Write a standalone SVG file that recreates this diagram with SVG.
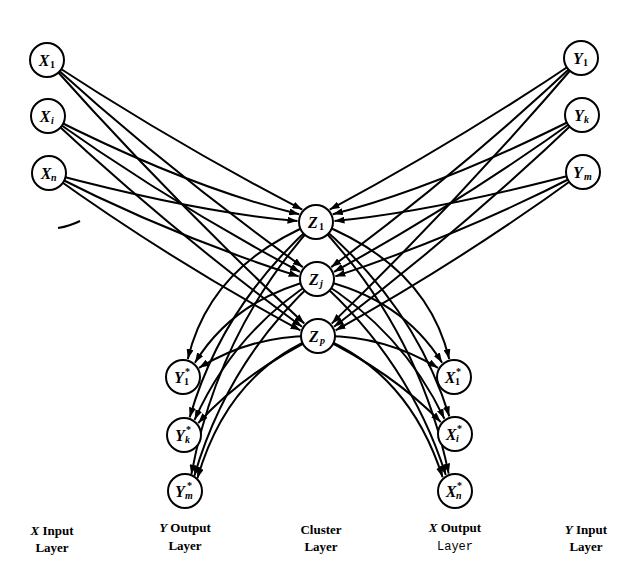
<svg xmlns="http://www.w3.org/2000/svg" width="625" height="567" viewBox="0 0 625 567">
<style>
.node circle{fill:#fff;stroke:#000;stroke-width:2}
.m{font-family:"Liberation Serif",serif;font-style:italic;font-weight:bold;font-size:16px;text-anchor:middle}
.s{font-family:"Liberation Serif",serif;font-style:italic;font-weight:bold;font-size:10px}
.u{font-style:normal}
.edge{fill:none;stroke:#000;stroke-width:2;marker-end:url(#ah)}
.lab{font-family:"Liberation Serif",serif;font-weight:bold;font-size:13px;text-anchor:middle}
.mono{font-family:"Liberation Mono",monospace;font-weight:normal;font-size:12px;text-anchor:middle}
</style>
<defs>
<marker id="ah" viewBox="0 0 10 7" refX="10" refY="3.5" markerWidth="10" markerHeight="7" markerUnits="userSpaceOnUse" orient="auto"><path d="M0,0 L10,3.5 L0,7 z" fill="#000"/></marker>
</defs>
<rect width="625" height="567" fill="#fff"/>
<g id="connectors">
<path class="edge" d="M47,60 Q172,142 302.3,209.6"/>
<path class="edge" d="M48,116 Q190,188 299.2,214.2"/>
<path class="edge" d="M49,173 Q200,213 297.5,221"/>
<path class="edge" d="M47,60 Q169,171 302.8,267.1"/>
<path class="edge" d="M48,116 Q169,202 300,271.8"/>
<path class="edge" d="M49,173 Q170,235 298.7,276.4"/>
<path class="edge" d="M47,60 Q170,198 304.3,323.6"/>
<path class="edge" d="M48,116 Q169,229 302,326.8"/>
<path class="edge" d="M49,173 Q170,260 300.4,330.3"/>
<path class="edge" d="M581,58 Q458,141 329.7,209.6"/>
<path class="edge" d="M582,115 Q440,187 332.8,214.2"/>
<path class="edge" d="M583,172 Q432,212 334.5,221"/>
<path class="edge" d="M581,58 Q462,170 331.2,267.1"/>
<path class="edge" d="M582,115 Q463,201 334,271.8"/>
<path class="edge" d="M583,172 Q463,234 335.3,276.4"/>
<path class="edge" d="M581,58 Q462,197 331.7,323.6"/>
<path class="edge" d="M582,115 Q464,228 334,326.8"/>
<path class="edge" d="M583,172 Q464,259 335.6,330.3"/>
<path class="edge" d="M316,222 Q210,265 187.8,359.1"/>
<path class="edge" d="M316,222 Q222,305 189.7,417.4"/>
<path class="edge" d="M316,222 Q218,330 191.3,474.6"/>
<path class="edge" d="M317,279 Q235,298 194.9,362.8"/>
<path class="edge" d="M317,279 Q235,330 194.6,419.8"/>
<path class="edge" d="M317,279 Q228,360 194.3,476"/>
<path class="edge" d="M318,336 Q255,334 199,367.8"/>
<path class="edge" d="M318,336 Q245,372 198.2,423.1"/>
<path class="edge" d="M318,336 Q228,372 197.4,478.3"/>
<path class="edge" d="M316,222 Q427,265 449.2,359.1"/>
<path class="edge" d="M316,222 Q415,305 449.3,416.4"/>
<path class="edge" d="M316,222 Q419,330 448.7,473.6"/>
<path class="edge" d="M317,279 Q402,298 442.1,362.8"/>
<path class="edge" d="M317,279 Q402,330 444.4,418.8"/>
<path class="edge" d="M317,279 Q409,360 445.8,475"/>
<path class="edge" d="M318,336 Q382,334 438,367.8"/>
<path class="edge" d="M318,336 Q392,372 440.8,422.1"/>
<path class="edge" d="M318,336 Q409,372 442.6,477.3"/>
</g>
<path d="M58,228 Q70,226 80,221" fill="none" stroke="#000" stroke-width="2"/>
<g id="X1" class="node"><circle cx="47" cy="60" r="17"/><text class="m" x="44" y="66">X</text><text class="s u" x="50" y="68">1</text></g>
<g id="Xi" class="node"><circle cx="48" cy="116" r="17"/><text class="m" x="45" y="122">X</text><text class="s" x="51" y="124">i</text></g>
<g id="Xn" class="node"><circle cx="49" cy="173" r="17"/><text class="m" x="46" y="179">X</text><text class="s" x="51" y="181">n</text></g>
<g id="Y1" class="node"><circle cx="581" cy="58" r="17"/><text class="m" x="578" y="64">Y</text><text class="s u" x="583" y="66">1</text></g>
<g id="Yk" class="node"><circle cx="582" cy="115" r="17"/><text class="m" x="579" y="121">Y</text><text class="s" x="584" y="123">k</text></g>
<g id="Ym" class="node"><circle cx="583" cy="172" r="17"/><text class="m" x="578" y="178">Y</text><text class="s" x="584" y="180">m</text></g>
<g id="Z1" class="node"><circle cx="316" cy="222" r="17"/><text class="m" x="313" y="228">Z</text><text class="s u" x="319" y="230">1</text></g>
<g id="Zj" class="node"><circle cx="317" cy="279" r="17"/><text class="m" x="314" y="285">Z</text><text class="s" x="320" y="287">j</text></g>
<g id="Zp" class="node"><circle cx="318" cy="336" r="17"/><text class="m" x="314" y="342">Z</text><text class="s" x="320" y="344">p</text></g>
<g id="Y1s" class="node"><circle cx="183" cy="377" r="17"/><text class="m" x="179" y="383">Y</text><text class="s u" x="184" y="385">1</text><text class="s u" x="185" y="375">*</text></g>
<g id="Yks" class="node"><circle cx="184" cy="435" r="17"/><text class="m" x="180" y="441">Y</text><text class="s" x="185" y="443">k</text><text class="s u" x="186" y="433">*</text></g>
<g id="Yms" class="node"><circle cx="185" cy="491" r="17"/><text class="m" x="180" y="497">Y</text><text class="s" x="185" y="499">m</text><text class="s u" x="187" y="489">*</text></g>
<g id="X1s" class="node"><circle cx="454" cy="377" r="17"/><text class="m" x="450" y="383">X</text><text class="s u" x="455" y="385">1</text><text class="s u" x="456" y="375">*</text></g>
<g id="Xis" class="node"><circle cx="455" cy="434" r="17"/><text class="m" x="451" y="440">X</text><text class="s" x="456" y="442">i</text><text class="s u" x="457" y="432">*</text></g>
<g id="Xns" class="node"><circle cx="455" cy="491" r="17"/><text class="m" x="451" y="497">X</text><text class="s" x="456" y="499">n</text><text class="s u" x="457" y="489">*</text></g>
<g id="labels">
<text class="lab" x="52" y="535"><tspan font-style="italic">X</tspan> Input</text>
<text class="lab" x="52" y="552">Layer</text>
<text class="lab" x="185" y="532"><tspan font-style="italic">Y</tspan> Output</text>
<text class="lab" x="185" y="550">Layer</text>
<text class="lab" x="321" y="534">Cluster</text>
<text class="lab" x="321" y="551">Layer</text>
<text class="lab" x="455" y="532"><tspan font-style="italic">X</tspan> Output</text>
<text class="mono" x="455" y="550">Layer</text>
<text class="lab" x="586" y="534"><tspan font-style="italic">Y</tspan> Input</text>
<text class="lab" x="586" y="551">Layer</text>
</g>
</svg>
